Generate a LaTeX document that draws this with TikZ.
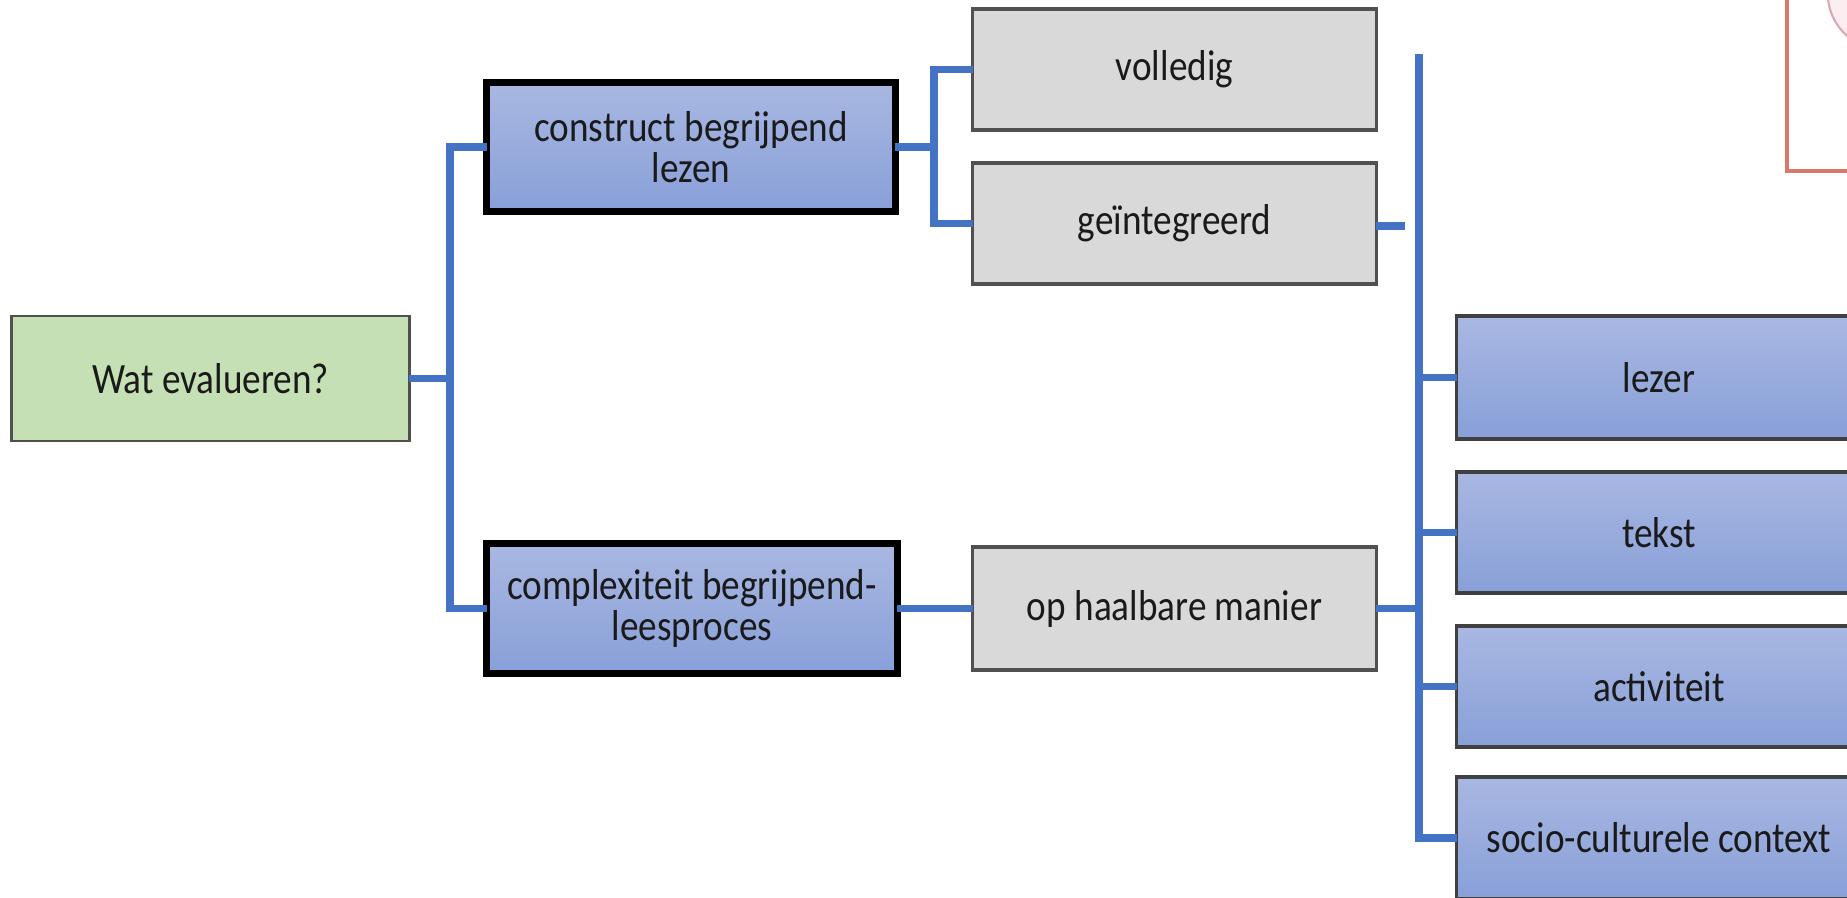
\documentclass[tikz,border=0pt]{standalone}
\usepackage{fontspec}
\setmainfont[FakeStretch=0.86]{Carlito}
\usetikzlibrary{calc}
\definecolor{connblue}{HTML}{4472C4}
\definecolor{greenfill}{HTML}{C5E0B4}
\definecolor{grayfill}{HTML}{D9D9D9}
\definecolor{bluetop}{HTML}{A9B8E2}
\definecolor{bluebot}{HTML}{889FD8}
\definecolor{edgegray}{HTML}{505050}
\definecolor{txtcol}{HTML}{1A1A1A}
\definecolor{redline}{HTML}{D6786E}
\definecolor{pinkfill}{HTML}{FCEEF0}
\definecolor{pinkline}{HTML}{D9A9B3}
\newcommand{\boxfont}{\fontsize{12.3}{11.6}\selectfont\color{txtcol}}
\tikzset{
  basebox/.style={inner sep=0pt, outer sep=0pt, align=center, font=\boxfont},
  greenbox/.style={basebox, fill=greenfill, draw=edgegray, line width=0.8pt},
  graybox/.style={basebox, fill=grayfill, draw=edgegray, line width=0.9pt},
  bluebox/.style={basebox, top color=bluetop, bottom color=bluebot, draw=edgegray!80!black, line width=0.9pt},
  keybox/.style={basebox, top color=bluetop, bottom color=bluebot, draw=black, line width=2pt},
  conn/.style={draw=connblue, line width=2.1pt},
}
\begin{document}
\begin{tikzpicture}[x=0.01cm,y=-0.01cm]
\clip (0,0) rectangle (1847,898);
\fill[white] (0,0) rectangle (1847,898);
% top-right partial shapes
\filldraw[fill=pinkfill, draw=pinkline, line width=0.6pt] (1905,-5) ellipse [x radius=0.77cm, y radius=0.62cm];
\draw[redline, line width=1.1pt] (1787,-20) -- (1787,171) -- (1870,171);
% nodes
\node[greenbox, minimum width=3.97cm, minimum height=1.25cm] (wat) at (210.5,378.5) {Wat evalueren?};
\node[keybox, minimum width=4.08cm, minimum height=1.28cm] (construct) at (691,147) {construct begrijpend\\lezen};
\node[keybox, minimum width=4.10cm, minimum height=1.29cm] (complex) at (692,608.5) {complexiteit begrijpend-\\leesproces};
\node[graybox, minimum width=4.03cm, minimum height=1.21cm] (volledig) at (1174.5,69.5) {volledig};
\node[graybox, minimum width=4.03cm, minimum height=1.21cm] (geint) at (1174.5,223.5) {geïntegreerd};
\node[graybox, minimum width=4.03cm, minimum height=1.23cm] (op) at (1174.5,608.5) {op haalbare manier};
\node[bluebox, minimum width=4.04cm, minimum height=1.23cm] (lezer) at (1659,377.5) {lezer};
\node[bluebox, minimum width=4.04cm, minimum height=1.21cm] (tekst) at (1659,532.5) {tekst};
\node[bluebox, minimum width=4.04cm, minimum height=1.21cm] (activiteit) at (1659,686.5) {activiteit};
\node[bluebox, minimum width=4.04cm, minimum height=1.22cm] (socio) at (1659,838) {socio-culturele context};
% bus coordinates
\coordinate (b1) at (450,378.5);
\coordinate (b2) at (934,147);
\coordinate (rt) at (1419,54);
\coordinate (gs) at (1405,226);
% connectors
\draw[conn] (wat.east) -- (b1);
\draw[conn] (construct.west) -| (b1) |- (complex.west);
\draw[conn] (construct.east) -- (b2);
\draw[conn] (volledig.west) -| (b2) |- (geint.west);
\draw[conn] (complex.east) -- (op.west);
\draw[conn] (rt) |- (socio.west);
\draw[conn] ($(volledig.east)+(0,5)$) -- ($(volledig.east)+(0,5)$ -| rt);
\draw[conn] (geint.east |- gs) -- (gs);
\draw[conn] (op.east) -- (op.east -| rt);
\draw[conn] (lezer.west) -- (lezer.west -| rt);
\draw[conn] (tekst.west) -- (tekst.west -| rt);
\draw[conn] (activiteit.west) -- (activiteit.west -| rt);
\end{tikzpicture}
\end{document}
